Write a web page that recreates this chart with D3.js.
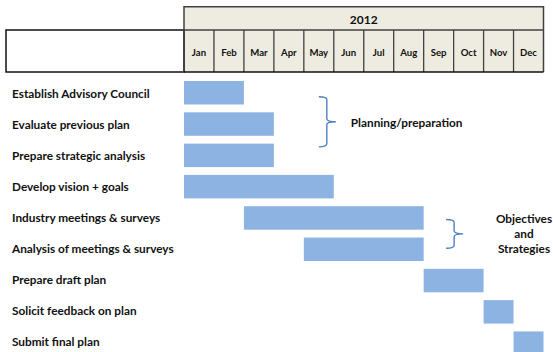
<!DOCTYPE html>
<html>
<head>
<meta charset="utf-8">
<script src="https://cdn.jsdelivr.net/npm/d3@7"></script>
<style>
  html, body { margin: 0; padding: 0; background: #fff; }
  svg { display: block; }
  text { font-family: Lato, "Open Sans", sans-serif; font-weight: 700; fill: #111; }
</style>
</head>
<body>
<svg id="chart" width="553" height="352"></svg>
<script>
// Schedule data
const year = "2012";
const months = ["Jan", "Feb", "Mar", "Apr", "May", "Jun", "Jul", "Aug", "Sep", "Oct", "Nov", "Dec"];
const tasks = [
  "Establish Advisory Council",
  "Evaluate previous plan",
  "Prepare strategic analysis",
  "Develop vision + goals",
  "Industry meetings & surveys",
  "Analysis of meetings & surveys",
  "Prepare draft plan",
  "Solicit feedback on plan",
  "Submit final plan"
];
// month index where each task begins, and month index where it ends (exclusive)
const taskStart = [0, 0, 0, 0, 2, 4, 8, 10, 11];
const taskEnd   = [2, 3, 3, 5, 8, 8, 10, 11, 12];
// phase groupings (first and last task index of each bracket)
const phaseNames = [["Planning/preparation"], ["Objectives", "and", "Strategies"]];
const phaseFirst = [0, 4];
const phaseLast  = [2, 5];

const svg = d3.select("#chart");

const left = 184, right = 543.5;
const x = d3.scaleLinear().domain([0, months.length]).range([left, right]);
const xm = d3.scaleBand().domain(months).range([left, right]);

const y = d3.scaleBand()
  .domain(tasks)
  .range([77.1, 358.8])
  .paddingInner(0.25)
  .paddingOuter(0.125);

// ---- header ----
const yearTop = 6.7, yearBot = 30, monthBot = 72;
const lineCol = "#404040";

const header = svg.append("g");
header.append("rect")
  .attr("x", left).attr("y", yearTop)
  .attr("width", right - left).attr("height", monthBot - yearTop)
  .attr("fill", "#eeece1");

header.append("rect")
  .attr("x", 6).attr("y", yearBot)
  .attr("width", left - 6).attr("height", monthBot - yearBot)
  .attr("fill", "#fff").attr("stroke", "#111").attr("stroke-width", 1.5);

// year row frame
header.append("path")
  .attr("d", `M${left},${monthBot} V${yearTop} H${right} V${monthBot}`)
  .attr("fill", "none").attr("stroke", lineCol).attr("stroke-width", 1.5);
header.append("line")
  .attr("x1", left).attr("x2", right).attr("y1", yearBot).attr("y2", yearBot)
  .attr("stroke", lineCol).attr("stroke-width", 1.5);

// month dividers
header.selectAll("line.div")
  .data(d3.range(1, months.length))
  .join("line")
  .attr("class", "div")
  .attr("x1", d => x(d)).attr("x2", d => x(d))
  .attr("y1", yearBot).attr("y2", monthBot)
  .attr("stroke", lineCol).attr("stroke-width", 1.3);

header.append("line")
  .attr("x1", left).attr("x2", right).attr("y1", monthBot).attr("y2", monthBot)
  .attr("stroke", "#111").attr("stroke-width", 1.5);

header.append("text")
  .attr("x", (left + right) / 2).attr("y", (yearTop + yearBot) / 2 + 1.5)
  .attr("dy", "0.35em").attr("text-anchor", "middle")
  .attr("font-size", 12)
  .text(year);

header.selectAll("text.month")
  .data(months)
  .join("text")
  .attr("class", "month")
  .attr("x", d => xm(d) + xm.bandwidth() / 2)
  .attr("y", 52.5).attr("dy", "0.35em")
  .attr("text-anchor", "middle")
  .attr("font-size", 9.6)
  .text(d => d);

// ---- task labels ----
svg.append("g").selectAll("text")
  .data(tasks)
  .join("text")
  .attr("x", 12)
  .attr("y", (d, i) => y(d) + y.bandwidth() / 2 + 1.3 - i * 0.3)
  .attr("dy", "0.35em")
  .attr("font-size", 11.8)
  .text(d => d);

// ---- bars ----
svg.append("g").selectAll("rect")
  .data(tasks)
  .join("rect")
  .attr("x", (d, i) => x(taskStart[i]))
  .attr("y", d => y(d))
  .attr("width", (d, i) => x(taskEnd[i]) - x(taskStart[i]))
  .attr("height", y.bandwidth())
  .attr("fill", "#8db3e2");

// ---- phase brackets ----
const braceCol = "#4f81bd";
// bracket placement along the month axis
const braceAt = [4.5, 8.75];
const mid = t => y(t) + y.bandwidth() / 2;

function bracePath(x0, top, bot) {
  const x1 = x0 + 8, x2 = x1 + 9, ym = (top + bot) / 2, r = 3;
  return `M${x0},${top} Q${x1},${top} ${x1},${top + r}` +
         ` V${ym - r} Q${x1},${ym} ${x2},${ym}` +
         ` M${x2},${ym} Q${x1},${ym} ${x1},${ym + r}` +
         ` V${bot - r} Q${x1},${bot} ${x0},${bot}`;
}

const phases = svg.append("g");
phaseNames.forEach((lines, p) => {
  const top = mid(tasks[phaseFirst[p]]) + (p === 0 ? 4 : 1.5);
  const bot = mid(tasks[phaseLast[p]]) - (p === 0 ? 8.5 : 1);
  const x0 = x(braceAt[p]);
  phases.append("path")
    .attr("d", bracePath(x0, top, bot))
    .attr("fill", "none")
    .attr("stroke", braceCol)
    .attr("stroke-width", 1.4);

  const ym = (top + bot) / 2;
  const t = phases.append("text").attr("font-size", 11.8);
  if (lines.length === 1) {
    t.attr("x", x0 + 32).attr("y", ym + 1.5).attr("dy", "0.35em").text(lines[0]);
  } else {
    t.attr("text-anchor", "middle");
    lines.forEach((ln, k) => {
      t.append("tspan")
        .attr("x", 524)
        .attr("y", ym + (k - 1) * 15)
        .attr("dy", "0.35em")
        .text(ln);
    });
  }
});
</script>
</body>
</html>
